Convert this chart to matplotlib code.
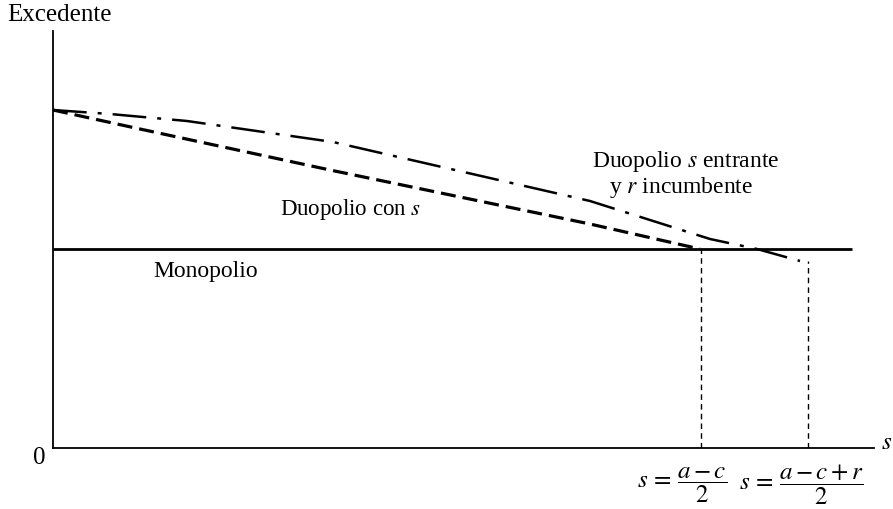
import numpy as np
import matplotlib
matplotlib.use('Agg')
import matplotlib.pyplot as plt

plt.rcParams['font.family'] = ['Liberation Serif', 'DejaVu Serif']
plt.rcParams['mathtext.fontset'] = 'stix'

# curves (units: px from the axes origin)
duo_x = [0, 87, 277, 537, 647]
duo_y = [338, 319, 278, 224, 199]

ent_x = [0, 57, 134, 280, 537, 657, 704, 747]
ent_y = [338, 334, 327, 306, 247, 209, 199, 187]

mono_x = [0, 799]
mono_y = [199, 199]

s1 = 648   # s = (a-c)/2
s2 = 755   # s = (a-c+r)/2

fig = plt.figure(figsize=(8.93, 5.1), dpi=100)
ax = fig.add_axes([53/893, 61/510, 821/893, 417/510])
ax.set_xlim(0, 821)
ax.set_ylim(0, 417)

ax.plot(mono_x, mono_y, color='black', lw=2.0, solid_capstyle='butt')
ax.plot(duo_x, duo_y, color='black', lw=2.3, dashes=(4.7, 2.2))
ax.plot(ent_x, ent_y, color='black', lw=1.8, dashes=(13.5, 4.4, 1.6, 4.4))

# vertical guides
ax.plot([s1, s1], [0, mono_y[0]], color='black', lw=1.0, dashes=(4, 3))
ax.plot([s2, s2], [0, ent_y[-1]], color='black', lw=1.0, dashes=(4, 3))

for side in ['top', 'right']:
    ax.spines[side].set_visible(False)
ax.spines['left'].set_linewidth(1.3)
ax.spines['bottom'].set_linewidth(1.3)
ax.set_xticks([])
ax.set_yticks([])

fs = 17
ax.text(-46, 434, 'Excedente', fontsize=18, ha='left', va='center', clip_on=False)
ax.text(-14, -9, '0', fontsize=fs + 1, ha='center', va='center', clip_on=False)
ax.text(834, 6, '$s$', fontsize=fs + 1, ha='center', va='center', clip_on=False)
ax.text(100, 177, 'Monopolio', fontsize=fs, ha='left', va='center')
ax.text(227, 239, 'Duopolio con $s$', fontsize=16.5, ha='left', va='center')
ax.text(633, 287, 'Duopolio $s$ entrante', fontsize=fs, ha='center', va='center')
ax.text(628, 262, 'y $r$ incumbente', fontsize=fs, ha='center', va='center')

ax.text(674, -36, r'$s\,=\,\dfrac{a-c}{2}$', fontsize=18, ha='right', va='center', clip_on=False)
ax.text(686, -36, r'$s\,=\,\dfrac{a-c+r}{2}$', fontsize=18, ha='left', va='center', clip_on=False)

fig.savefig('out.png', dpi=100)
